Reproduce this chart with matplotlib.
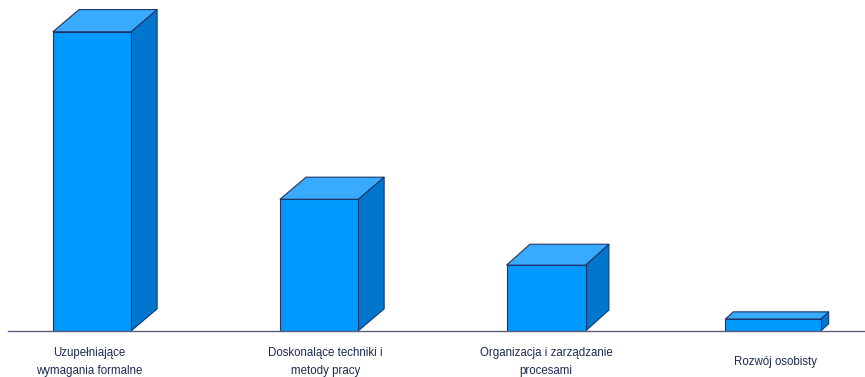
import matplotlib.pyplot as plt
from matplotlib.patches import Polygon

categories = [
    "Uzupełniające\nwymagania formalne",
    "Doskonalące techniki i\nmetody pracy",
    "Organizacja i zarządzanie\nprocesami",
    "Rozwój osobisty",
]
values = [50, 22, 11, 2]

# bar geometry (data units)
widths = [0.344, 0.344, 0.348, 0.42]
depth_x = [0.115, 0.115, 0.103, 0.035]
depth_y = [3.7, 3.7, 3.5, 1.2]

front_col = "#0099FF"
top_col = "#38AAFF"
side_col = "#0077CC"
edge_col = "#1F3468"

fig = plt.figure(figsize=(8.65, 3.77), dpi=100)
ax = fig.add_axes([0, 0.122, 1, 0.878])
ax.set_xlim(-0.405, 3.405)
ax.set_ylim(0, 55.3)
ax.axis("off")

for i, v in enumerate(values):
    w = widths[i]
    dx, dy = depth_x[i], depth_y[i]
    x0, x1 = i - w / 2, i + w / 2
    front = [(x0, 0), (x1, 0), (x1, v), (x0, v)]
    top = [(x0, v), (x1, v), (x1 + dx, v + dy), (x0 + dx, v + dy)]
    side = [(x1, 0), (x1 + dx, dy), (x1 + dx, v + dy), (x1, v)]
    for pts, c in [(side, side_col), (top, top_col), (front, front_col)]:
        ax.add_patch(Polygon(pts, closed=True, facecolor=c, edgecolor=edge_col,
                             linewidth=0.8, joinstyle="miter", zorder=2))

# baseline
ax.plot([-0.37, 3.405], [0, 0], color="#59607E", linewidth=1.0, zorder=3,
        clip_on=False)

label_x = [-0.01, 1.03, 2.0, 3.01]
for lx, lab in zip(label_x, categories):
    ax.text(lx, -5.2, lab, ha="center", va="center", fontsize=8.3,
            family="Liberation Sans", color="#1F2A50", linespacing=1.65,
            clip_on=False)

fig.savefig("out.png", dpi=100)
